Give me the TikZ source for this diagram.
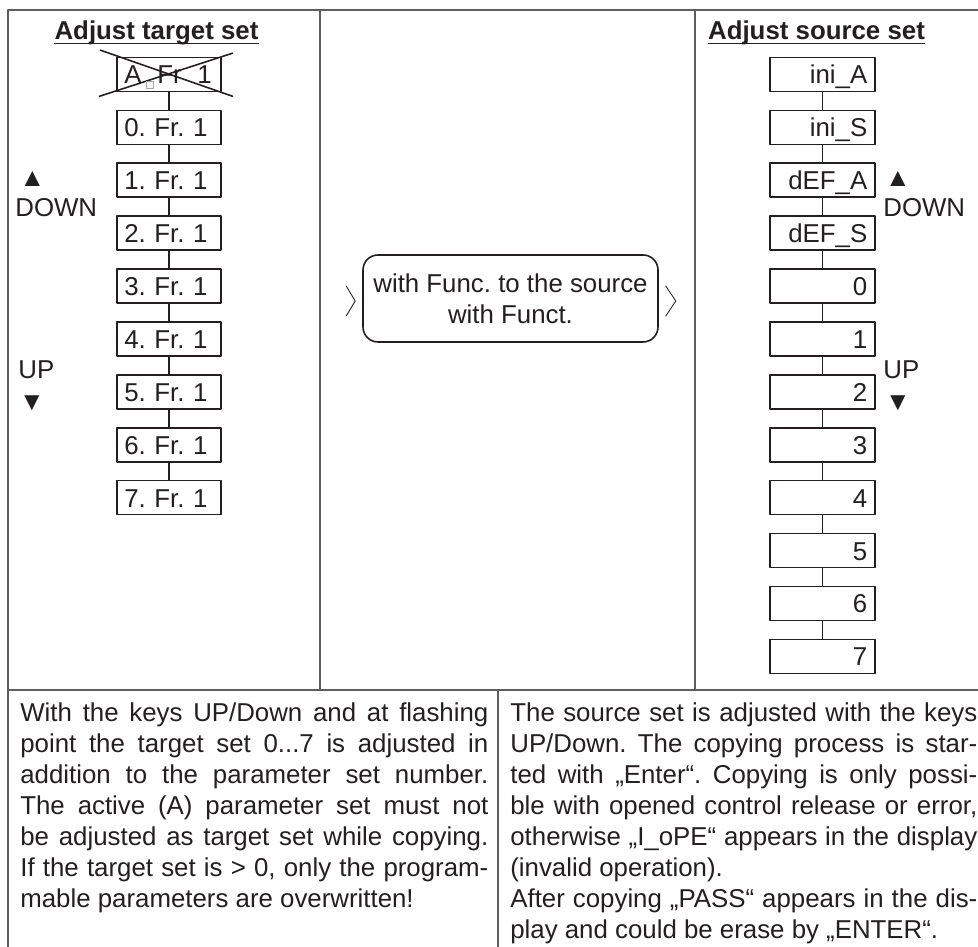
\documentclass[tikz,border=0pt]{standalone}
\usepackage{fontspec}
\setmainfont{Liberation Sans}
\usepackage{tikz}
\usetikzlibrary{arrows.meta,calc}
\definecolor{cpyink}{HTML}{231F20}
\definecolor{cpyrule}{HTML}{5E5E5E}
\usetikzlibrary{positioning}
\frenchspacing

\begin{document}
\begin{tikzpicture}[line cap=round,line join=round,
  font=\fontsize{14.7}{17.6}\selectfont,text=cpyink,
  cell/.style={draw=cpyink,line width=.9pt,inner xsep=.15cm,inner ysep=0pt,
    text width=1.79cm,minimum height=.68cm,text height=.38cm,text depth=0pt},
  tgt/.style={cell,align=left},
  src/.style={cell,align=right},
  link/.style={cpyink,line width=.9pt},
  rule/.style={cpyrule,line width=.6pt},
  head/.style={font=\fontsize{14.7}{17.6}\selectfont\bfseries,inner sep=0pt,anchor=base},
  key/.style={inner sep=0pt,anchor=base west},
  tri/.style={inner sep=0pt,anchor=base},
  para/.style={inner sep=0pt,anchor=base west,text width=9.36cm,align=justify}]
\path[use as bounding box] (0,0) rectangle (19.56,18.94);
\fill[white] (0,0) rectangle (19.56,18.94);

% frame and table lines
\draw[rule] (0.16,-1)--(0.16,18.74)--(20.5,18.74);
\draw[rule] (6.40,18.74)--(6.40,5.14);
\draw[rule] (13.90,18.74)--(13.90,5.14);
\draw[rule] (0.16,5.14)--(20.5,5.14);
\draw[rule] (9.96,5.14)--(9.96,-1);

% left column: target set
\node[head] (ttgt) at (3.13,18.14) {Adjust target set};
\draw[cpyink,line width=1.1pt,line cap=butt] ($(ttgt.base west)+(0,-.07)$)--($(ttgt.base east)+(0,-.07)$);
\foreach \lab [count=\i from 0] in {A\phantom{.} Fr\phantom{.} 1,0. Fr. 1,1. Fr. 1,2. Fr. 1,
    3. Fr. 1,4. Fr. 1,5. Fr. 1,6. Fr. 1,7. Fr. 1}
  \node[tgt] (t\i) at (3.38,{17.45-1.058*\i}) {\lab};
\foreach \i in {1,...,8} {
  \pgfmathtruncatemacro\h{\i-1}
  \draw[link] (t\h.south)--(t\i.north);
}
% active set is crossed out
\draw[link] ($(t0.north west)+(-.31,.13)$)--($(t0.south east)+(.21,-.08)$);
\draw[link] ($(t0.south west)+(-.33,-.08)$)--($(t0.north east)+(.21,.07)$);
\draw[black!35,line width=.3pt] ($(t0.center)+(-.46,-.27)$) rectangle +(.14,.14);
\node[tri] (tup) at (0.65,15.20) {▲};
\node[key] (tdn) at (0.30,14.60) {DOWN};
\node[key] (tupl) at (0.36,11.36) {UP};
\node[tri] (tdw) at (0.64,10.72) {▼};

% middle: function box
\node[draw=cpyink,line width=.9pt,rounded corners=.3cm,minimum width=5.9cm,
  minimum height=1.74cm,align=center] (fn) at (10.21,12.97)
  {with Func. to the source\\with Funct.};
\draw[cpyink,line width=.5pt] ($(fn.west)+(-.32,.25)$)--($(fn.west)+(-.14,-.05)$)--($(fn.west)+(-.32,-.35)$);
\draw[cpyink,line width=.5pt] ($(fn.east)+(.14,.25)$)--($(fn.east)+(.34,-.05)$)--($(fn.east)+(.14,-.35)$);

% right column: source set
\node[head] (tsrc) at (16.33,18.14) {Adjust source set};
\draw[cpyink,line width=1.1pt,line cap=butt] ($(tsrc.base west)+(0,-.07)$)--($(tsrc.base east)+(0,-.07)$);
\foreach \lab [count=\i from 0] in {ini\_A,ini\_S,dEF\_A,dEF\_S,0,1,2,3,4,5,6,7}
  \node[src] (s\i) at (16.45,{17.45-1.058*\i}) {\lab};
\foreach \i in {1,...,11} {
  \pgfmathtruncatemacro\h{\i-1}
  \draw[link] (s\h.south)--(s\i.north);
}
\node[tri] (sup) at (17.96,15.20) {▲};
\node[key] (sdn) at (17.66,14.60) {DOWN};
\node[key] (supl) at (17.66,11.36) {UP};
\node[tri] (sdw) at (17.96,10.72) {▼};

% notes
\node[para] (ltxt) at (0.40,4.50) {With the keys UP/Down and at flashing\linebreak
  point the target set 0...7 is adjusted in\linebreak
  addition to the parameter set number.\linebreak
  The active (A) parameter set must not\linebreak
  be adjusted as target set while copying.\linebreak
  If the target set is > 0, only the program-\linebreak
  mable parameters are overwritten!};
\node[para,text width=9.34cm] (rtxt) at (10.20,4.50) {The source set is adjusted with the keys\linebreak
  UP/Down. The copying process is star-\linebreak
  ted with „Enter“. Copying is only possi-\linebreak
  ble with opened control release or error,\linebreak
  otherwise „I\_oPE“ appears in the display\linebreak
  (invalid operation).\par
  After copying „PASS“ appears in the dis-\linebreak
  play and could be erase by „ENTER“.};
\end{tikzpicture}
\end{document}
